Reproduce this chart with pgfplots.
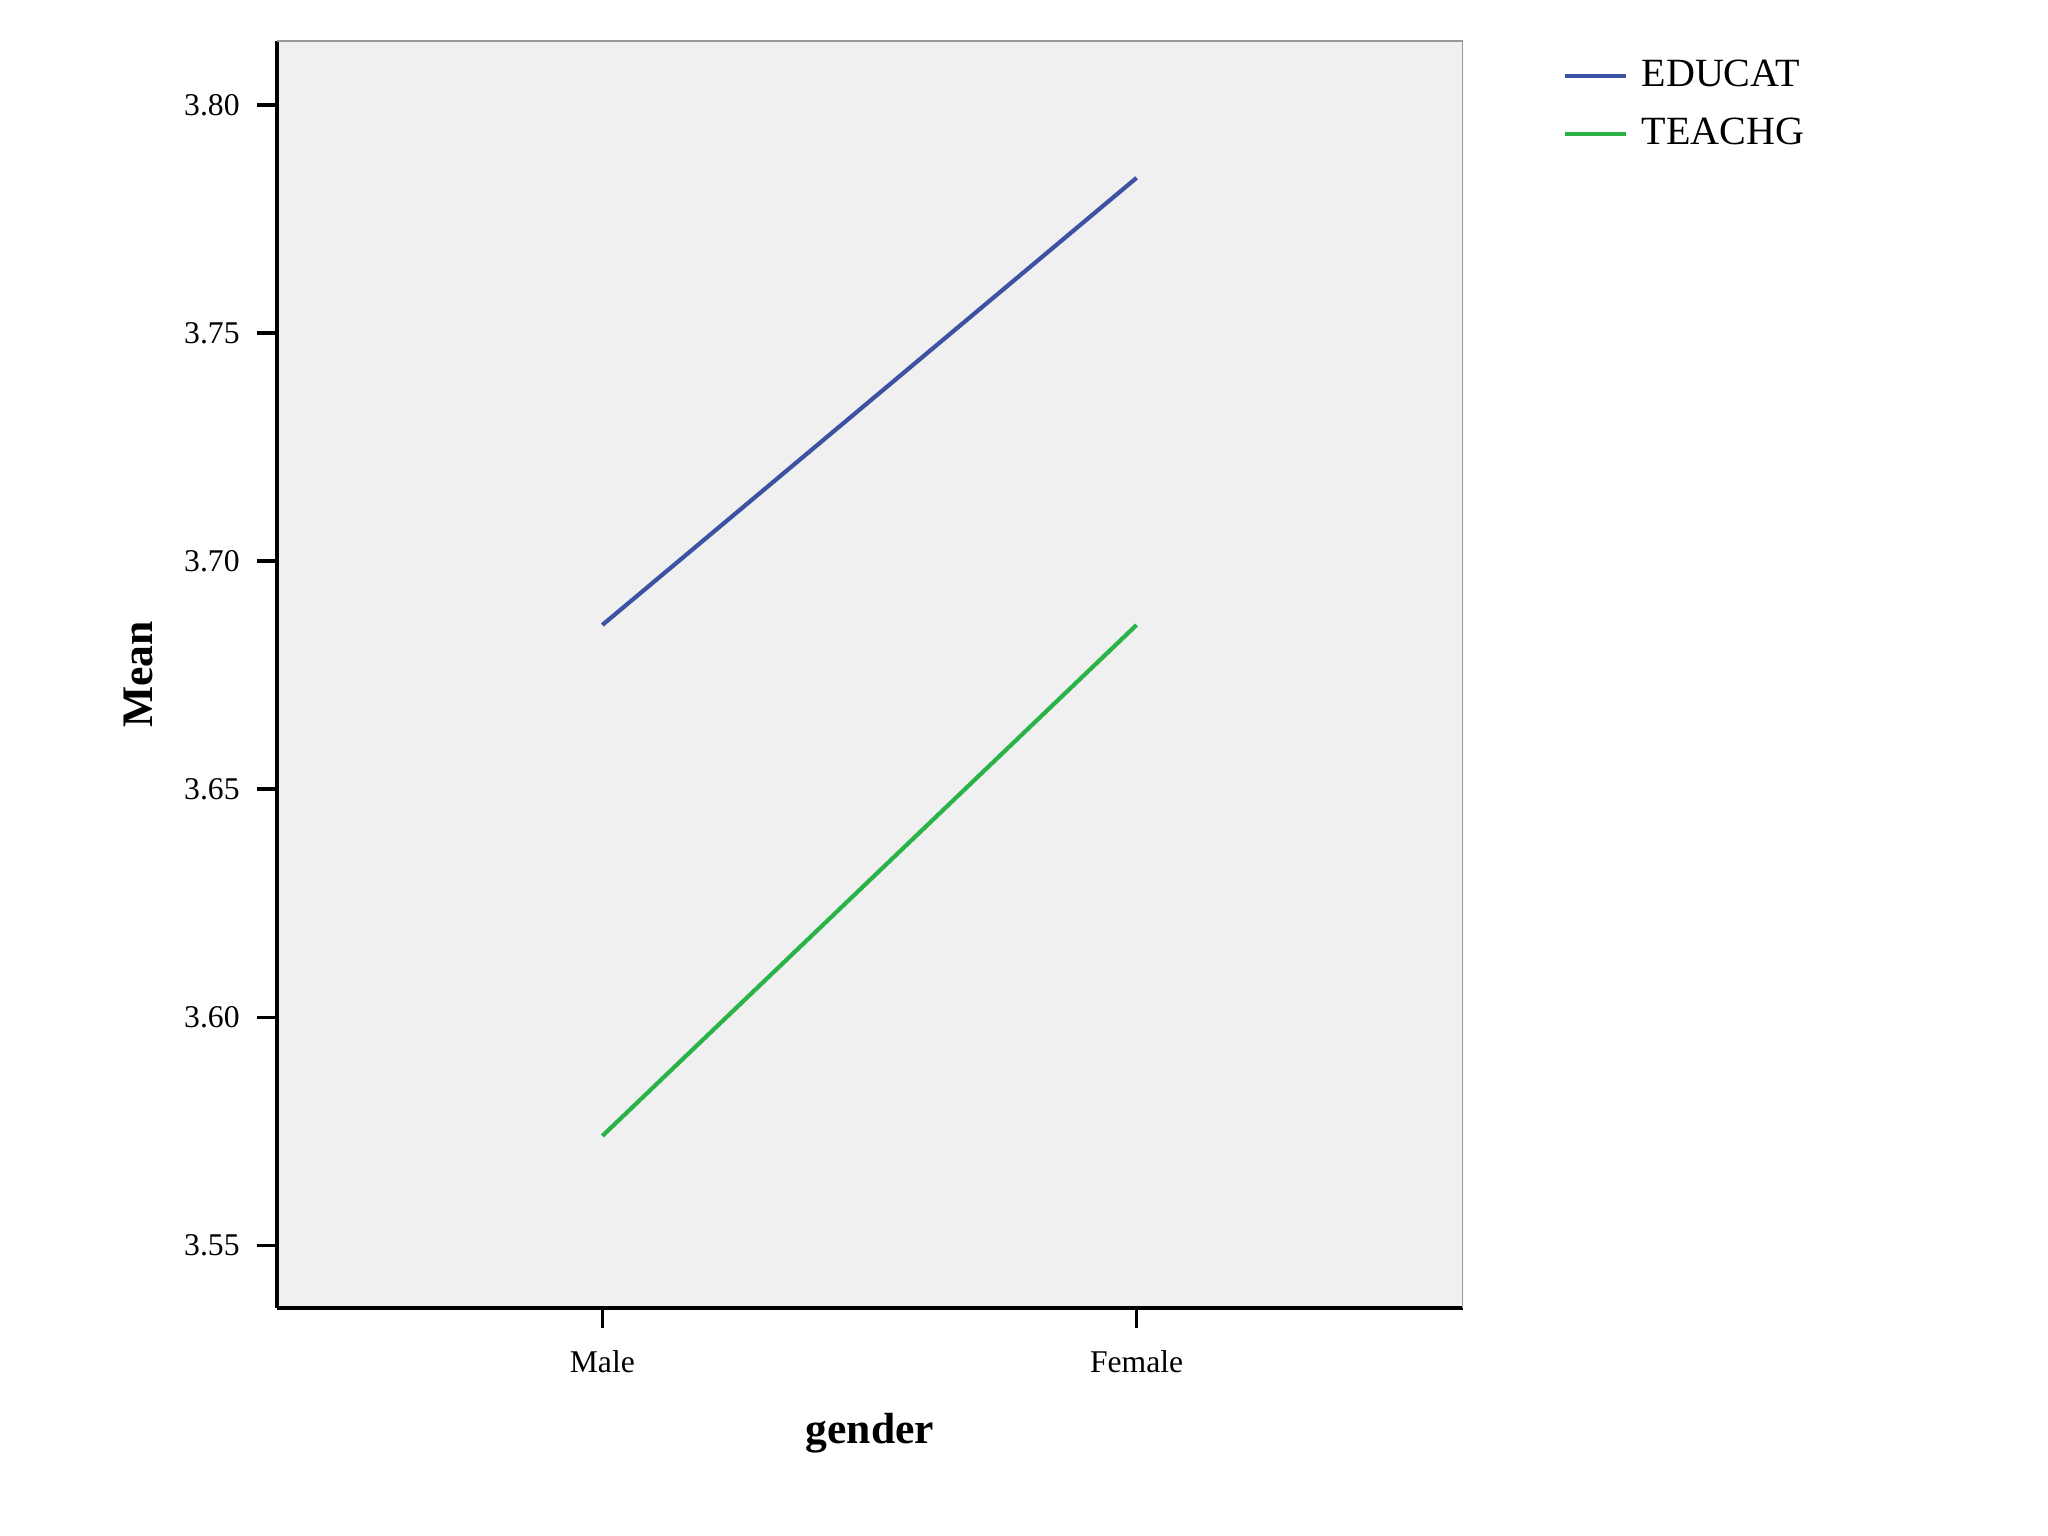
\documentclass[border=0pt]{standalone}
\usepackage{fontspec}
\setmainfont{Liberation Serif}
\usepackage{pgfplots}
\pgfplotsset{compat=1.18}
\definecolor{educ}{RGB}{62,82,163}
\definecolor{teach}{RGB}{42,180,72}
\definecolor{bgg}{RGB}{240,240,240}
\begin{document}
\begin{tikzpicture}
\path[use as bounding box, fill=white] (0,0) rectangle (20.48cm,15.36cm);
\begin{axis}[
  at={(2.77cm,2.28cm)}, anchor=south west, scale only axis,
  width=11.86cm, height=12.67cm,
  xmin=-0.609, xmax=1.611, ymin=3.5363, ymax=3.814,
  xtick={0,1}, xticklabels={Male,Female},
  ytick={3.55,3.60,3.65,3.70,3.75,3.80},
  yticklabel style={/pgf/number format/fixed,/pgf/number format/fixed zerofill,/pgf/number format/precision=2,/pgf/number format/assume math mode=true, xshift=-0.05cm},
  xticklabel style={yshift=-0.1cm},
  ticklabel style={font=\fontsize{9}{10.8}\selectfont},
  axis background/.style={fill=bgg},
  axis x line*=bottom, axis y line*=left,
  axis line style={-, line width=1pt, black},
  tick style={line width=1pt, black},
  major tick length=0.2cm, tick align=outside,
  xlabel={gender}, ylabel={Mean},
  label style={font=\fontsize{12.4}{14}\selectfont\bfseries},
  xlabel style={at={(axis description cs:0.5,-0.0985)}, anchor=center},
  ylabel style={at={(axis description cs:-0.1172,0.5)}, anchor=center},
  legend style={at={(rel axis cs:1.0836,0.991)}, anchor=north west, draw=none, fill=none, inner sep=0pt,
    font=\fontsize{11.4}{13.5}\selectfont, row sep=0.12cm},
  legend cell align=left,
  legend image code/.code={\draw[#1] (0cm,0cm) -- (0.61cm,0cm); \path (0.675cm,0cm);},
]
\draw[gray!80, line width=0.4pt] (rel axis cs:0,1) -- (rel axis cs:1,1) -- (rel axis cs:1,0);
\addplot[educ, line width=1.2pt] coordinates {(0,3.686) (1,3.784)};
\addlegendentry{EDUCAT}
\addplot[teach, line width=1.2pt] coordinates {(0,3.574) (1,3.686)};
\addlegendentry{TEACHG}
\end{axis}
\end{tikzpicture}
\end{document}
